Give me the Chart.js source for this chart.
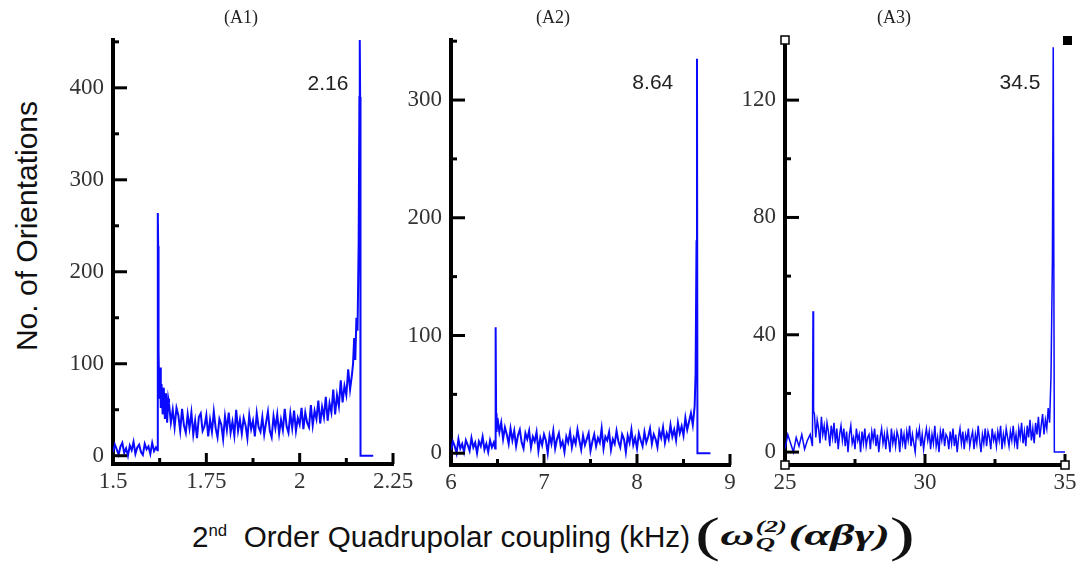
<!DOCTYPE html>
<html>
<head>
<meta charset="utf-8">
<script src="https://cdn.jsdelivr.net/npm/chart.js@4.4.0/dist/chart.umd.min.js"></script>
<style>
  body { margin: 0; width: 1086px; height: 564px; position: relative; overflow: hidden; background: #fff;
         font-family: 'Liberation Sans', Arial, sans-serif; }
  canvas { position: absolute; top: 0; }
  .ptitle { position: absolute; top: 7px; font: 18px 'Liberation Serif', serif; color: #222; transform: translateX(-50%); }
  #ytitle { position: absolute; left: 27px; top: 226px; transform: translate(-50%, -50%) rotate(-90deg);
            font-size: 30px; white-space: nowrap; color: #111; }
  #xtitle { position: absolute; left: 192px; top: 522px; font-size: 30px; line-height: 30px; color: #111; white-space: nowrap; }
  #xt-text { display: inline-block; transform-origin: left center; }
  #xt-text sup { font-size: 17px; vertical-align: 11px; line-height: 0; }
  #xmath { position: absolute; left: 695px; top: 508px; white-space: nowrap; color: #111;
           font-family: 'Liberation Serif', serif; font-weight: bold; font-style: italic; }
  #xm-inner { display: inline-flex; align-items: center; transform-origin: left center; }
  .bp { font-size: 48px; font-style: normal; font-weight: normal; line-height: 54px; }
  .m { font-size: 30px; }
  .ss { display: inline-flex; flex-direction: column; font-size: 17px; line-height: 17px; margin: 0 1px; }
</style>
</head>
<body>
<canvas id="a1" width="370" height="500" style="left:50px"></canvas>
<canvas id="a2" width="360" height="500" style="left:400px"></canvas>
<canvas id="a3" width="356" height="500" style="left:730px"></canvas>
<div class="ptitle" style="left:241px">(A1)</div>
<div class="ptitle" style="left:553px">(A2)</div>
<div class="ptitle" style="left:894px">(A3)</div>
<div id="ytitle">No. of Orientations</div>
<div id="xtitle"><span id="xt-text">2<sup>nd</sup>&nbsp; Order Quadrupolar coupling (kHz)</span></div>
<div id="xmath"><span id="xm-inner"><span class="bp">(</span><span class="m">ω</span><span class="ss"><span>(2)</span><span>Q</span></span><span class="m">(αβγ)</span><span class="bp">)</span></span></div>
<script>
// panel A1: 2.16 kHz
const a1Points = [
  [1.500,4],[1.505,12],[1.510,7],[1.515,1],[1.520,10],[1.525,14],[1.530,3],[1.535,8],[1.540,0],[1.545,11],
  [1.550,6],[1.555,15],[1.560,2],[1.565,9],[1.570,12],[1.575,4],[1.580,1],[1.585,13],[1.590,7],[1.595,10],
  [1.600,2],[1.605,14],[1.610,5],[1.615,9],[1.619,6],
  [1.620,264],[1.621,228],[1.622,114],[1.624,62],[1.626,96],[1.628,52],[1.630,78],[1.633,45],[1.636,74],
  [1.639,40],[1.642,68],[1.645,36],[1.648,62],
  [1.650,57],[1.655,36],[1.660,50],[1.665,31],[1.670,52],[1.675,44],[1.680,27],[1.685,51],[1.690,33],[1.695,25],
  [1.700,45],[1.705,30],[1.710,47],[1.715,23],[1.720,38],[1.725,19],[1.730,42],[1.735,46],[1.740,27],[1.745,32],
  [1.750,44],[1.755,21],[1.760,39],[1.765,26],[1.770,48],[1.775,30],[1.780,20],[1.785,40],[1.790,34],[1.795,18],
  [1.800,43],[1.805,28],[1.810,47],[1.815,25],[1.820,37],[1.825,22],[1.830,50],[1.835,27],[1.840,39],[1.845,24],
  [1.850,41],[1.855,33],[1.860,19],[1.865,44],[1.870,29],[1.875,38],[1.880,21],[1.885,46],[1.890,31],[1.895,26],
  [1.900,42],[1.905,23],[1.910,36],[1.915,48],[1.920,27],[1.925,20],[1.930,43],[1.935,30],[1.940,45],[1.945,24],
  [1.950,39],[1.955,28],[1.960,51],[1.965,32],[1.970,25],[1.975,46],[1.980,30],[1.985,49],[1.990,27],[1.995,41],
  [2.000,34],[2.005,52],[2.010,29],[2.015,47],[2.020,36],[2.025,31],[2.030,55],[2.035,33],[2.040,49],[2.045,40],
  [2.050,60],[2.055,35],[2.060,53],[2.065,42],[2.070,64],[2.075,38],[2.080,57],[2.085,47],[2.090,72],[2.095,45],
  [2.100,66],[2.105,54],[2.110,82],[2.115,58],[2.120,76],[2.125,66],[2.130,94],[2.135,72],[2.140,88],[2.143,100],
  [2.146,128],[2.149,104],[2.152,150],[2.155,136],[2.158,231],[2.160,390],[2.161,452],[2.162,390],[2.163,0],[2.197,0]
];
const a1XTicks = [1.5, 1.75, 2, 2.25];
const a1XMinor = [1.625, 1.875, 2.125];
const a1YTicks = [0, 100, 200, 300, 400];
const a1YMinor = [50, 150, 250, 350, 450];

// panel A2: 8.64 kHz
const a2Points = [
  [6.00,3],[6.02,10],[6.04,6],[6.06,0],[6.08,12],[6.10,4],[6.12,8],[6.14,1],[6.16,11],[6.18,7],
  [6.20,2],[6.22,13],[6.24,5],[6.26,9],[6.28,0],[6.30,10],[6.32,6],[6.34,14],[6.36,3],[6.38,8],
  [6.40,1],[6.42,11],[6.44,5],[6.46,9],[6.475,4],
  [6.48,107],[6.485,34],[6.49,18],
  [6.50,30],[6.52,18],[6.54,26],[6.56,12],[6.58,22],[6.60,16],[6.62,8],[6.64,21],[6.66,11],[6.68,19],
  [6.70,6],[6.72,15],[6.74,20],[6.76,9],[6.78,4],[6.80,17],[6.82,12],[6.84,19],[6.86,5],[6.88,14],
  [6.90,10],[6.92,18],[6.94,2],[6.96,13],[6.98,7],[7.00,16],[7.02,11],[7.04,0],[7.06,15],[7.08,8],
  [7.10,19],[7.12,4],[7.14,12],[7.16,17],[7.18,6],[7.20,10],[7.22,1],[7.24,14],[7.26,9],[7.28,18],
  [7.30,5],[7.32,13],[7.34,8],[7.36,20],[7.38,11],[7.40,3],[7.42,15],[7.44,7],[7.46,12],[7.48,17],
  [7.50,2],[7.52,10],[7.54,16],[7.56,6],[7.58,13],[7.60,9],[7.62,21],[7.64,4],[7.66,14],[7.68,11],
  [7.70,18],[7.72,3],[7.74,12],[7.76,8],[7.78,19],[7.80,10],[7.82,5],[7.84,16],[7.86,12],[7.88,1],
  [7.90,15],[7.92,9],[7.94,20],[7.96,7],[7.98,13],[8.00,4],[8.02,17],[8.04,11],[8.06,6],[8.08,18],
  [8.10,9],[8.12,14],[8.14,21],[8.16,8],[8.18,16],[8.20,12],[8.22,5],[8.24,19],[8.26,13],[8.28,22],
  [8.30,9],[8.32,17],[8.34,12],[8.36,24],[8.38,14],[8.40,20],[8.42,11],[8.44,26],[8.46,17],[8.48,23],
  [8.50,15],[8.52,30],[8.54,20],[8.56,27],[8.58,34],[8.60,24],[8.62,40],[8.63,68],[8.64,180],[8.645,335],
  [8.65,0],[8.79,0]
];
const a2XTicks = [6, 7, 8, 9];
const a2XMinor = [6.5, 7.5, 8.5];
const a2YTicks = [0, 100, 200, 300];
const a2YMinor = [50, 150, 250, 350];

// panel A3: 34.5 kHz
const a3Points = [
  [25.0,1],[25.1,6],[25.2,3],[25.3,0],[25.4,5],[25.5,2],[25.6,6],[25.7,1],[25.8,4],[25.9,6],
  [25.98,2],[26.0,48],[26.02,14],
  [26.05,13],[26.10,5],[26.15,11],[26.20,8],[26.25,3],[26.30,12],[26.35,6],[26.40,9],[26.45,4],[26.50,10],
  [26.55,7],[26.60,2],[26.65,9],[26.70,5],[26.75,10],[26.80,3],[26.85,8],[26.90,1],[26.95,6],[27.00,9],
  [27.05,4],[27.10,8],[27.15,2],[27.20,7],[27.25,0],[27.30,6],[27.35,9],[27.40,3],[27.45,5],[27.50,1],
  [27.55,8],[27.60,4],[27.65,6],[27.70,0],[27.75,7],[27.80,3],[27.85,8],[27.90,2],[27.95,5],[28.00,6],
  [28.05,1],[28.10,7],[28.15,4],[28.20,8],[28.25,2],[28.30,6],[28.35,0],[28.40,5],[28.45,8],[28.50,3],
  [28.55,6],[28.60,1],[28.65,7],[28.70,4],[28.75,0],[28.80,8],[28.85,3],[28.90,6],[28.95,2],[29.00,7],
  [29.05,5],[29.10,0],[29.15,8],[29.20,3],[29.25,6],[29.30,1],[29.35,7],[29.40,4],[29.45,9],[29.50,2],
  [29.55,6],[29.60,3],[29.65,0],[29.70,7],[29.75,5],[29.80,8],[29.85,2],[29.90,6],[29.95,1],[30.00,5],
  [30.05,8],[30.10,4],[30.15,7],[30.20,1],[30.25,6],[30.30,3],[30.35,9],[30.40,2],[30.45,5],[30.50,0],
  [30.55,7],[30.60,4],[30.65,8],[30.70,2],[30.75,6],[30.80,5],[30.85,1],[30.90,7],[30.95,3],[31.00,8],
  [31.05,2],[31.10,6],[31.15,0],[31.20,5],[31.25,8],[31.30,3],[31.35,7],[31.40,1],[31.45,6],[31.50,4],
  [31.55,8],[31.60,2],[31.65,5],[31.70,7],[31.75,1],[31.80,6],[31.85,3],[31.90,9],[31.95,4],[32.00,0],
  [32.05,6],[32.10,3],[32.15,8],[32.20,2],[32.25,7],[32.30,5],[32.35,1],[32.40,8],[32.45,4],[32.50,6],
  [32.55,2],[32.60,7],[32.65,4],[32.70,9],[32.75,1],[32.80,6],[32.85,3],[32.90,8],[32.95,5],[33.00,2],
  [33.05,7],[33.10,4],[33.15,9],[33.20,3],[33.25,6],[33.30,1],[33.35,8],[33.40,5],[33.45,10],[33.50,3],
  [33.55,7],[33.60,2],[33.65,9],[33.70,5],[33.75,11],[33.80,4],[33.85,8],[33.90,3],[33.95,10],[34.00,6],
  [34.05,12],[34.10,5],[34.15,9],[34.20,13],[34.25,6],[34.30,11],[34.35,8],[34.40,15],[34.45,10],
  [34.50,26],[34.55,65],[34.58,138],[34.62,0],[35.0,0]
];
const a3XTicks = [25, 30, 35];
const a3XMinor = [27.5, 32.5];
const a3YTicks = [0, 40, 80, 120];
const a3YMinor = [20, 60, 100];

const lineBlue = '#0a0aff';
const tickFont = { family: "'Liberation Serif', 'Times New Roman', serif", size: 23 };

// inward tick marks, peak label and (for A3) selection handles
const axisDecor = {
  id: 'axisDecor',
  afterDraw(chart, args, opts) {
    const { ctx, chartArea: a, scales: { x, y } } = chart;
    ctx.save();
    ctx.strokeStyle = '#000';
    ctx.lineWidth = 3;
    const seg = (x1, y1, x2, y2) => { ctx.beginPath(); ctx.moveTo(x1, y1); ctx.lineTo(x2, y2); ctx.stroke(); };
    opts.xMajor.forEach(v => { const p = x.getPixelForValue(v); seg(p, a.bottom, p, a.bottom - 11); });
    opts.xMinor.forEach(v => { const p = x.getPixelForValue(v); seg(p, a.bottom, p, a.bottom - 6); });
    opts.yMajor.forEach(v => { const p = y.getPixelForValue(v); seg(a.left, p, a.left + 14, p); });
    opts.yMinor.forEach(v => { const p = y.getPixelForValue(v); if (p >= a.top - 1) seg(a.left, p, a.left + 6, p); });

    ctx.font = "21px 'Liberation Sans', Arial, sans-serif";
    ctx.fillStyle = '#222';
    ctx.textAlign = 'center';
    ctx.textBaseline = 'middle';
    ctx.fillText(opts.note.text, x.getPixelForValue(opts.note.x), y.getPixelForValue(opts.note.y));

    if (opts.handles) {
      ctx.lineWidth = 1.5;
      [[a.left, a.top], [a.left, a.bottom], [a.right, a.bottom]].forEach(([hx, hy]) => {
        ctx.fillStyle = '#fff';
        ctx.fillRect(hx - 4, hy - 4, 8, 8);
        ctx.strokeRect(hx - 4, hy - 4, 8, 8);
      });
      ctx.fillStyle = '#000';
      ctx.fillRect(a.right - 2, a.top - 4, 9, 9);
    }
    ctx.restore();
  }
};

function makePanel(id, points, o) {
  return new Chart(document.getElementById(id), {
    type: 'line',
    data: {
      datasets: [{
        data: points.map(p => ({ x: p[0], y: p[1] })),
        borderColor: lineBlue,
        borderWidth: o.lineWidth,
        pointRadius: 0,
        tension: 0,
        fill: false
      }]
    },
    options: {
      responsive: false,
      animation: false,
      events: [],
      layout: { padding: { top: 40, right: o.padRight, left: 0, bottom: 0 } },
      plugins: {
        legend: { display: false },
        tooltip: { enabled: false },
        axisDecor: { xMajor: o.xTicks, xMinor: o.xMinor, yMajor: o.yTicks, yMinor: o.yMinor, note: o.note, handles: o.handles }
      },
      scales: {
        x: {
          type: 'linear',
          min: o.xMin, max: o.xMax,
          afterBuildTicks: s => { s.ticks = o.xTicks.map(v => ({ value: v })); },
          afterFit: s => { s.height = o.xHeight; },
          grid: { display: false, drawTicks: false },
          border: { display: true, color: '#000', width: 4 },
          ticks: { font: tickFont, color: '#333', padding: 4, maxRotation: 0, autoSkip: false, callback: v => String(v) }
        },
        y: {
          min: o.yMin, max: o.yMax,
          afterBuildTicks: s => { s.ticks = o.yTicks.map(v => ({ value: v })); },
          afterFit: s => { s.width = o.yWidth; },
          grid: { display: false, drawTicks: false },
          border: { display: true, color: '#000', width: 4 },
          ticks: { font: tickFont, color: '#333', padding: 9, autoSkip: false, callback: v => String(v) }
        }
      }
    },
    plugins: [axisDecor]
  });
}

makePanel('a1', a1Points, {
  xMin: 1.5, xMax: 2.25, yMin: -9, yMax: 452, xTicks: a1XTicks, xMinor: a1XMinor, yTicks: a1YTicks, yMinor: a1YMinor,
  yWidth: 63, xHeight: 36, padRight: 27, lineWidth: 2, note: { text: '2.16', x: 2.076, y: 404 }
});
makePanel('a2', a2Points, {
  xMin: 6, xMax: 9, yMin: -10, yMax: 351, xTicks: a2XTicks, xMinor: a2XMinor, yTicks: a2YTicks, yMinor: a2YMinor,
  yWidth: 51, xHeight: 35, padRight: 30, lineWidth: 2, note: { text: '8.64', x: 8.17, y: 314 }
});
makePanel('a3', a3Points, {
  xMin: 25, xMax: 35, yMin: -4.4, yMax: 140.5, xTicks: a3XTicks, xMinor: a3XMinor, yTicks: a3YTicks, yMinor: a3YMinor,
  yWidth: 55, xHeight: 35, padRight: 21, lineWidth: 1.5, handles: true, note: { text: '34.5', x: 33.39, y: 125.8 }
});

// squeeze the bottom title pieces to the widths they take in the figure
const xt = document.getElementById('xt-text');
xt.style.transform = 'scaleX(' + (498 / xt.getBoundingClientRect().width) + ')';
const xm = document.getElementById('xm-inner');
xm.style.transform = 'scaleX(' + (220 / xm.getBoundingClientRect().width) + ')';
</script>
</body>
</html>
